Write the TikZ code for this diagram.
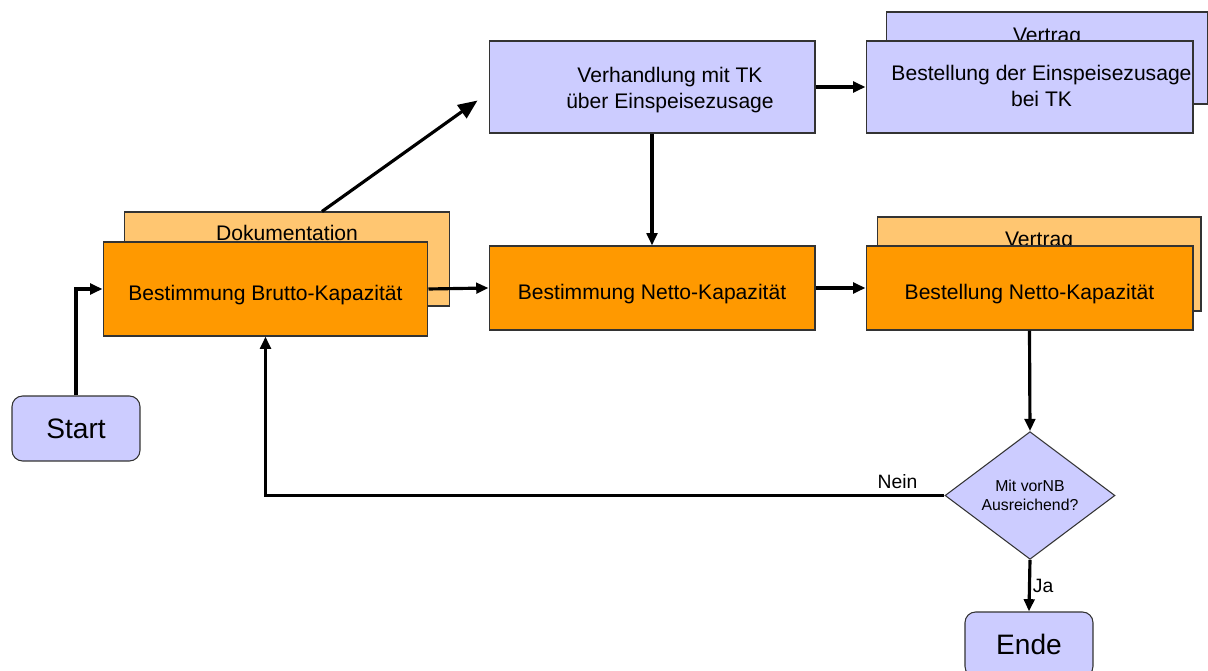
\documentclass[tikz,border=0pt]{standalone}
\usepackage{fontspec}
\setmainfont{Liberation Sans}
\usetikzlibrary{arrows.meta,shapes.geometric}
\definecolor{kapaorange}{HTML}{FF9900}
\definecolor{lightorange}{HTML}{FFC671}
\definecolor{lavender}{HTML}{CCCCFF}
\definecolor{rim}{HTML}{333333}
\begin{document}
\begin{tikzpicture}[x=0.02cm, y=-0.02cm,
        box/.style = {draw=rim, line width=0.6pt, inner sep=0pt, align=center,
            font=\fontsize{12}{15}\selectfont},
        orangebox/.style = {box, fill=kapaorange, text height=13pt, text depth=0pt},
        backbox/.style = {box, fill=lightorange},
        bluebox/.style = {box, fill=lavender},
        terminal/.style = {box, fill=lavender, rounded corners=6pt,
            minimum width=2.56cm, minimum height=1.3cm, font=\fontsize{16}{18}\selectfont},
        flow/.style = {line width=1.8pt, -{Triangle[length=7pt,width=6pt]}}]
        \useasboundingbox (0,0) rectangle (1208,671);
        % upper row
        \node[bluebox, minimum width=6.52cm, minimum height=1.84cm] (verh) at (652,87) {};
        \node[font=\fontsize{12}{15}\selectfont, align=center] (verhtxt) at ([xshift=0.36cm,yshift=-0.06cm]verh.center)
            {Verhandlung mit TK\\über Einspeisezusage};
        \node[bluebox, minimum width=6.44cm, minimum height=1.84cm] (vertragE) at (1047,58) {};
        \node[anchor=north, inner sep=0pt, font=\fontsize{12}{15}\selectfont] (vertragEtxt)
            at ([yshift=-0.32cm]vertragE.north) {Vertrag};
        \node[bluebox, minimum width=6.54cm, minimum height=1.84cm] (bestE) at (1029.5,87) {};
        \node[font=\fontsize{12}{15}\selectfont, align=center] (bestEtxt) at ([xshift=0.24cm,yshift=0.02cm]bestE.center)
            {Bestellung der Einspeisezusage\\bei TK};
        % middle row
        \node[backbox, minimum width=6.52cm, minimum height=1.88cm] (dok) at (287,259) {};
        \node[anchor=north, inner sep=0pt, font=\fontsize{12}{15}\selectfont] (doktxt)
            at ([yshift=-0.26cm]dok.north) {Dokumentation};
        \node[orangebox, minimum width=6.5cm, minimum height=1.88cm] (brutto) at (265.5,289) {Bestimmung Brutto-Kapazität};
        \node[orangebox, minimum width=6.52cm, minimum height=1.68cm] (netto) at (652,288) {Bestimmung Netto-Kapazität};
        \node[backbox, minimum width=6.48cm, minimum height=1.88cm] (vertragN) at (1039,264) {};
        \node[anchor=north, inner sep=0pt, font=\fontsize{12}{15}\selectfont] (vertragNtxt)
            at ([yshift=-0.3cm]vertragN.north) {Vertrag};
        \node[orangebox, minimum width=6.54cm, minimum height=1.68cm] (bestN) at (1029.5,288) {Bestellung Netto-Kapazität};
        % start, decision, end
        \node[terminal] (start) at (76,428.5) {Start};
        \node[box, fill=lavender, diamond, minimum width=3.4cm, minimum height=2.5cm,
            font=\fontsize{9}{11}\selectfont] (check) at (1030,495.5) {Mit vorNB\\Ausreichend?};
        \node[terminal] (ende) at (1029,644.5) {Ende};
        % connectors
        \coordinate (verhin) at ([xshift=-0.22cm,yshift=0.66cm]verh.south west);
        \draw[line width=1.8pt, -{Triangle[length=11pt,width=9pt]}] ([xshift=0.7cm]dok.north) -- (verhin);
        \draw[flow] (start.north) |- (brutto.west);
        \draw[flow] (brutto.east) -- (netto.west);
        \draw[flow] (verh.south) -- (netto.north);
        \draw[flow] (verh.east) -- (bestE.west);
        \draw[flow] (netto.east) -- (bestN.west);
        \draw[flow] (bestN.south) -- (check.north);
        \draw[flow] (check.west) -| (brutto.south);
        \draw[flow] (check.south) -- node[right, inner sep=1pt, font=\fontsize{11}{13}\selectfont] (ja) {Ja} (ende.north);
        \node[font=\fontsize{11}{13}\selectfont] (nein) at ([xshift=-0.94cm,yshift=0.27cm]check.west) {Nein};
\end{tikzpicture}
\end{document}
